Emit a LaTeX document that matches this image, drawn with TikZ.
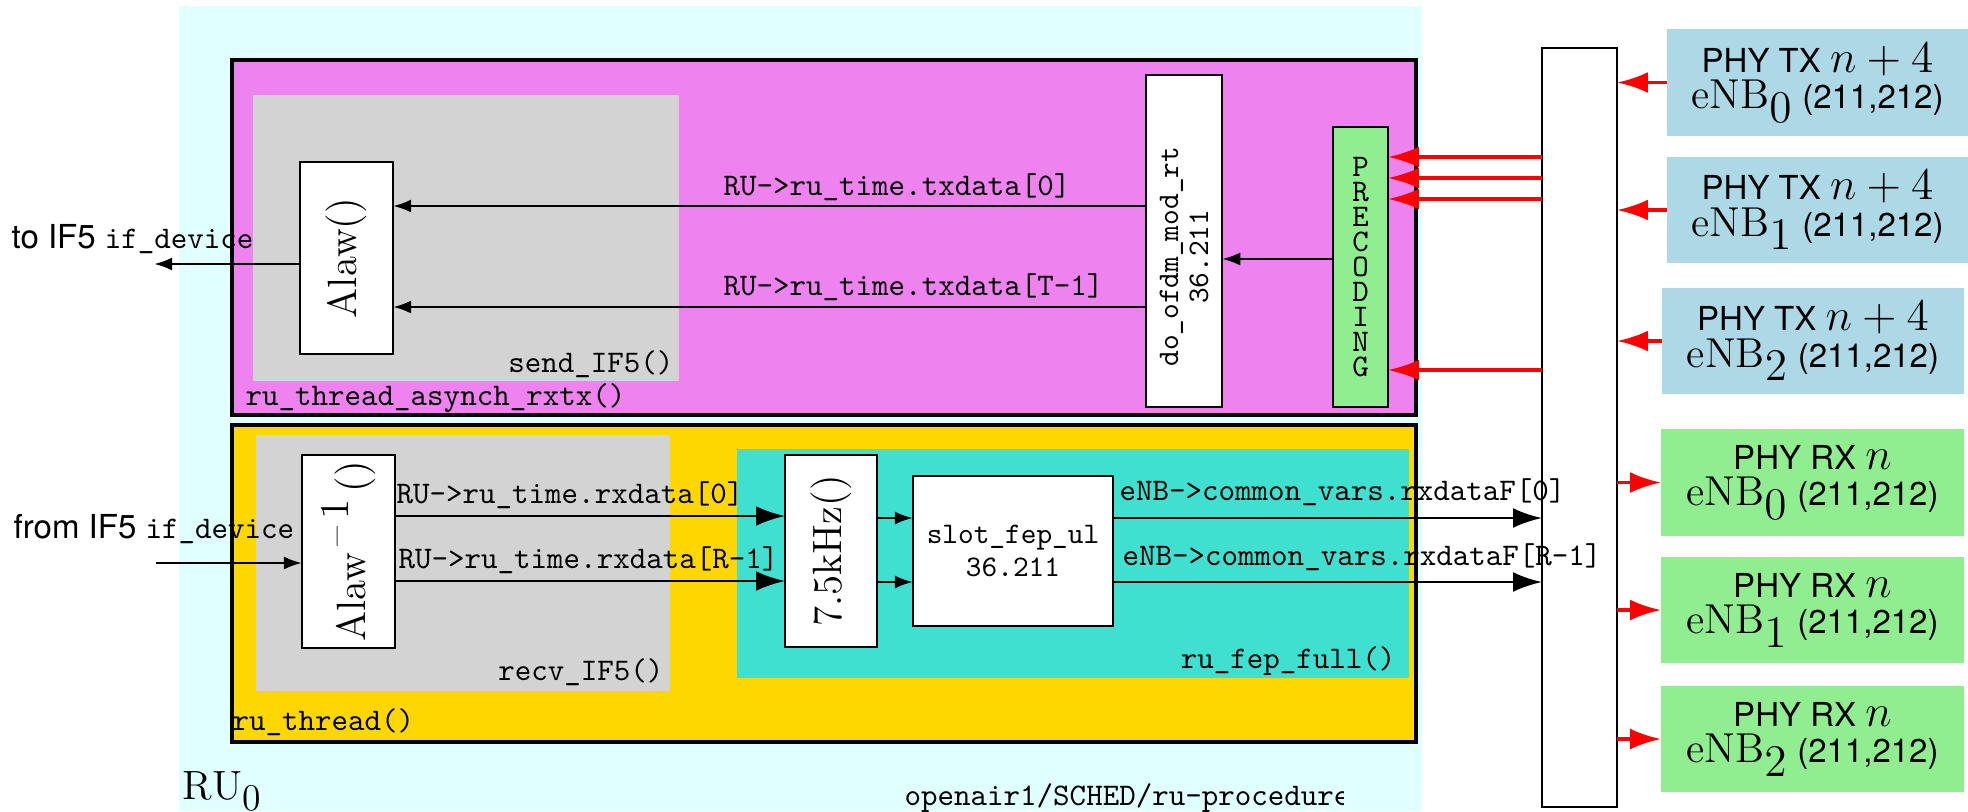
\documentclass[tikz,border=0pt]{standalone}
\usepackage{fontspec}
\setsansfont{TeX Gyre Heros}
\usetikzlibrary{fit,arrows.meta}

\definecolor{rucyan}{HTML}{E0FFFF}
\definecolor{asyncpink}{HTML}{EE82EE}
\definecolor{ifgray}{HTML}{D3D3D3}
\definecolor{threadgold}{HTML}{FFD700}
\definecolor{fepturq}{HTML}{40E0D0}
\definecolor{txblue}{HTML}{ADD8E6}
\definecolor{rxgreen}{HTML}{90EE90}

% math set a little larger than the surrounding sans text
\newcommand{\bigmath}[1]{{\fontsize{13.3}{14}\selectfont$#1$}}

\begin{document}
\begin{tikzpicture}[x=0.318pt, y=-0.318pt,
  area/.style={inner sep=0pt, outer sep=0pt},
  frame/.style={area, draw=black, line width=1pt},
  block/.style={area, draw=black, line width=0.85pt, fill=white},
  tt/.style={inner sep=0pt, font=\ttfamily\fontsize{10}{12}\selectfont},
  sflbl/.style={inner sep=0pt, font=\sffamily\fontsize{10.5}{12}\selectfont},
  rm/.style={inner sep=0pt, font=\fontsize{13}{15}\selectfont},
  phy/.style={inner sep=0pt, align=center, font=\sffamily\fontsize{10.5}{11.6}\selectfont},
  bigarr/.style={-{Latex[length=9.2pt,width=6.3pt]}, line width=0.85pt},
  smallarr/.style={-{Latex[length=5.8pt,width=4.2pt]}, line width=0.85pt},
  redarr/.style={-{Latex[length=9.8pt,width=6.6pt]}, draw=red, line width=1.1pt},
]
\useasboundingbox (0,0) rectangle (1968,811);

% ---- nested thread regions of the radio unit ----
\node[area, fill=rucyan, fit={(179,6) (1422,811)}] (ru) {};
\node[frame, fill=asyncpink, fit={(232,60) (1416,415)}] (async) {};
\node[area, fill=ifgray, fit={(253,95) (679,381)}] (send) {};
\node[frame, fill=threadgold, fit={(232,425) (1416,742)}] (thread) {};
\node[area, fill=ifgray, fit={(256,435) (670,691)}] (recv) {};
\node[area, fill=fepturq, fit={(737,449) (1409,678)}] (fep) {};

% ---- processing blocks ----
\node[block, fit={(300,162) (393,354)}] (alaw) {};
\node[block, fit={(1146,75) (1222,407)}] (ofdm) {};
\node[block, fill=rxgreen, fit={(1333,127) (1388,407)}] (prec) {};
\node[block, fit={(302,455) (395,648)}] (ialaw) {};
\node[block, fit={(785,455) (877,647)}] (khz) {};
\node[block, fit={(913,476) (1113,626)}] (slot) {};
\node[block, fit={(1542,48) (1617,807)}] (bar) {};

% ---- eNB PHY instances ----
\node[area, fill=txblue, fit={(1667,29) (1968,136)}] (tx0) {};
\node[area, fill=txblue, fit={(1667,157) (1968,263)}] (tx1) {};
\node[area, fill=txblue, fit={(1662,288) (1964,394)}] (tx2) {};
\node[area, fill=rxgreen, fit={(1661,429) (1964,536)}] (rx0) {};
\node[area, fill=rxgreen, fit={(1661,557) (1964,663)}] (rx1) {};
\node[area, fill=rxgreen, fit={(1661,686) (1964,792)}] (rx2) {};

\node[phy] (tx0t) at (tx0.center) {PHY TX \bigmath{n+4}\\\bigmath{\mathrm{eNB}_{\textstyle 0}} (211,212)};
\node[phy] (tx1t) at (tx1.center) {PHY TX \bigmath{n+4}\\\bigmath{\mathrm{eNB}_{\textstyle 1}} (211,212)};
\node[phy] (tx2t) at (tx2.center) {PHY TX \bigmath{n+4}\\\bigmath{\mathrm{eNB}_{\textstyle 2}} (211,212)};
\node[phy] (rx0t) at (rx0.center) {PHY RX \bigmath{n}\\\bigmath{\mathrm{eNB}_{\textstyle 0}} (211,212)};
\node[phy] (rx1t) at (rx1.center) {PHY RX \bigmath{n}\\\bigmath{\mathrm{eNB}_{\textstyle 1}} (211,212)};
\node[phy] (rx2t) at (rx2.center) {PHY RX \bigmath{n}\\\bigmath{\mathrm{eNB}_{\textstyle 2}} (211,212)};

% ---- block texts ----
\node[rm, rotate=90] (alawt) at (alaw.center) {Alaw()};
\node[tt, rotate=90, align=center, font=\ttfamily\fontsize{9.5}{9.5}\selectfont] (ofdmt) at ([yshift=-5pt]ofdm.center) {do\_ofdm\_mod\_rt\\36.211};
\node[tt, align=center, font=\ttfamily\fontsize{10}{7.95}\selectfont] (prect) at (prec.center) {P\\R\\E\\C\\O\\D\\I\\N\\G};
\node[rm, rotate=90] (ialawt) at (ialaw.center) {Alaw\raisebox{0.4em}{\,\textendash\,1}\,()};
\node[rm, rotate=90] (khzt) at (khz.center) {7.5kHz()};
\node[tt, align=center, font=\ttfamily\fontsize{9.5}{10.5}\selectfont] (slott) at (slot.center) {slot\_fep\_ul\\36.211};

% ---- region captions ----
\node[tt, anchor=base east] (sendl) at (674,372) {send\_IF5()};
\node[tt, anchor=base west] (asyncl) at (245,405) {ru\_thread\_asynch\_rxtx()};
\node[tt, anchor=base east] (recvl) at (664,680) {recv\_IF5()};
\node[tt, anchor=base west] (threadl) at (232,730) {ru\_thread()};
\node[tt, anchor=base east] (fepl) at (1396,668) {ru\_fep\_full()};
\node[inner sep=0pt, anchor=base west, font=\fontsize{13}{15}\selectfont] (rul) at (182,799) {$\mathrm{RU}_{\textstyle 0}$};
\begin{scope}
  \clip (0,0) rectangle (1343,811);
  \node[tt, anchor=base west] (srcl) at (904,805) {openair1/SCHED/ru-procedure};
\end{scope}

% ---- transmit path ----
\coordinate (r1) at (0,206);
\coordinate (r2) at (0,307);
\coordinate (r3) at (0,259);
\coordinate (r4) at (0,264);
\coordinate (toif) at (154,264);
\draw[smallarr] (ofdm.west|-r1) -- (alaw.east|-r1);
\draw[smallarr] (ofdm.west|-r2) -- (alaw.east|-r2);
\node[tt, anchor=base west] (txl0) at (723,195) {RU->ru\_time.txdata[0]};
\node[tt, anchor=base west] (txl1) at (723,295) {RU->ru\_time.txdata[T-1]};
\draw[smallarr] (prec.west|-r3) -- (ofdm.east|-r3);
\draw[smallarr] (alaw.west|-r4) -- (toif);
\node[sflbl, anchor=base west] (tol) at (11,248) {to IF5 {\ttfamily\fontsize{10}{12}\selectfont if\_device}};

% ---- receive path ----
\coordinate (fromif) at (156,563);
\draw[smallarr] (fromif) -- (ialaw.west|-fromif);
\node[sflbl, anchor=base west] (froml) at (13,538) {from IF5 {\ttfamily\fontsize{10}{12}\selectfont if\_device}};
\coordinate (s1) at (0,516);
\coordinate (s2) at (0,581);
\draw[bigarr] (ialaw.east|-s1) -- (khz.west|-s1);
\draw[bigarr] (ialaw.east|-s2) -- (khz.west|-s2);
\node[tt, anchor=base west] (rxl0) at (396,503) {RU->ru\_time.rxdata[0]};
\node[tt, anchor=base west] (rxl1) at (398,568) {RU->ru\_time.rxdata[R-1]};
\coordinate (f1) at (0,518);
\coordinate (f2) at (0,582);
\draw[smallarr] (khz.east|-f1) -- (slot.west|-f1);
\draw[smallarr] (khz.east|-f2) -- (slot.west|-f2);
\draw[bigarr] (slot.east|-f1) -- (bar.west|-f1);
\draw[bigarr] (slot.east|-f2) -- (bar.west|-f2);
\node[tt, anchor=base west] (rxfl0) at (1119,500) {eNB->common\_vars.rxdataF[0]};
\node[tt, anchor=base west] (rxfl1) at (1122,565) {eNB->common\_vars.rxdataF[R-1]};

% ---- eNB links through the switch bar ----
\coordinate (pa) at (0,157);
\coordinate (pb) at (0,178);
\coordinate (pc) at (0,199);
\coordinate (pd) at (0,370);
\draw[redarr] (bar.west|-pa) -- (prec.east|-pa);
\draw[redarr] (bar.west|-pb) -- (prec.east|-pb);
\draw[redarr] (bar.west|-pc) -- (prec.east|-pc);
\draw[redarr] (bar.west|-pd) -- (prec.east|-pd);
\draw[redarr] (tx0.west) -- (bar.east|-tx0.west);
\draw[redarr] (tx1.west) -- (bar.east|-tx1.west);
\draw[redarr] (tx2.west) -- (bar.east|-tx2.west);
\draw[redarr] (bar.east|-rx0.west) -- (rx0.west);
\draw[redarr] (bar.east|-rx1.west) -- (rx1.west);
\draw[redarr] (bar.east|-rx2.west) -- (rx2.west);
\end{tikzpicture}
\end{document}
